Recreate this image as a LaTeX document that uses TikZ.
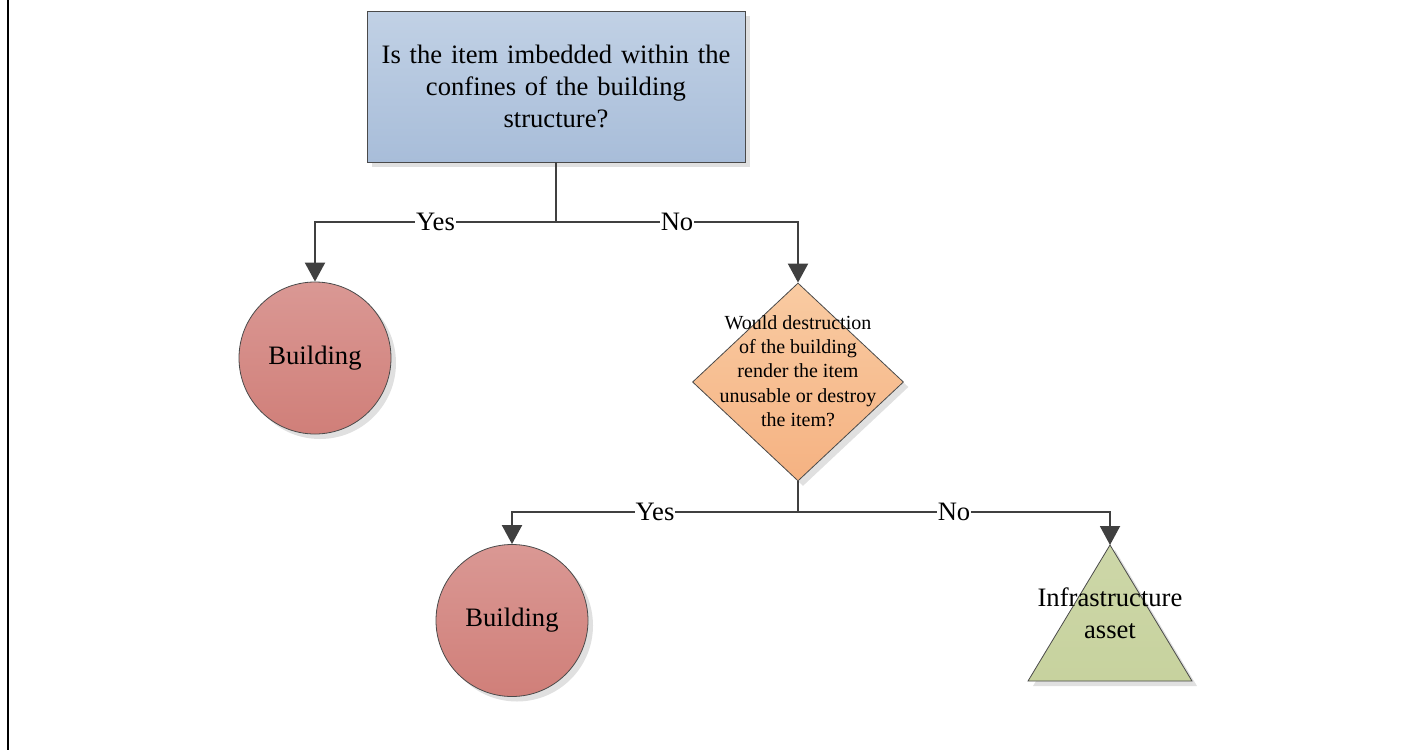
\documentclass[tikz,border=0pt]{standalone}
\usepackage{fontspec}
\setmainfont{Liberation Serif}
\usetikzlibrary{arrows.meta,shapes.geometric,shadows}
\definecolor{linegray}{HTML}{404040}
\definecolor{edgegray}{HTML}{4A4A4A}
\definecolor{qtop}{HTML}{C1D1E5}
\definecolor{qbot}{HTML}{A8BDD9}
\definecolor{btop}{HTML}{DA9894}
\definecolor{bbot}{HTML}{D07F79}
\definecolor{dtop}{HTML}{F9CBA2}
\definecolor{dbot}{HTML}{F5B282}
\definecolor{ttop}{HTML}{CDD7A8}
\definecolor{tbot}{HTML}{C7D29E}
\begin{document}
\begin{tikzpicture}[x=1pt,y=-1pt,
  bigfont/.style={font=\fontsize{26.6}{32}\selectfont},
  smallfont/.style={font=\fontsize{20}{24.3}\selectfont},
  conn/.style={draw=linegray,line width=2pt},
  arr/.style={conn,-{Triangle[width=20pt,length=19pt]}},
  lbl/.style={fill=white,inner sep=1pt,bigfont},
  shadowed/.style={drop shadow={shadow xshift=5pt,shadow yshift=-5pt,fill=black!12,opacity=1}},
  question/.style={rectangle,draw=edgegray,line width=0.8pt,shadowed,
    shading=axis,top color=qtop,bottom color=qbot,
    minimum width=378pt,minimum height=151pt,inner sep=0pt,
    text width=370pt,align=center,bigfont},
  outcome/.style={circle,draw=edgegray,line width=0.8pt,shadowed,
    shading=axis,top color=btop,bottom color=bbot,
    minimum size=152pt,inner sep=0pt,bigfont},
  decision/.style={diamond,draw=edgegray,line width=0.8pt,shadowed,
    shading=axis,top color=dtop,bottom color=dbot,
    minimum width=211pt,minimum height=198pt,inner sep=0pt},
  asset/.style={draw=edgegray,line width=0.8pt,shadowed,
    shading=axis,top color=ttop,bottom color=tbot}
]
\useasboundingbox (0,0) rectangle (1419,750);

% page frame on the left
\draw[black,line width=2pt] (8,0) -- (8,750);

% first question
\node[question] (q1) at (556,86.5)
  {Is the item imbedded within the\\confines of the building\\structure?};

% outcome: building
\node[outcome] (b1) at (315,358) {Building};

% second question
\node[decision] (q2) at (798,382) {};
\node[smallfont,align=center] (q2text) at (798,371)
  {Would destruction\\of the building\\render the item\\unusable or destroy\\the item?};

% outcome: building
\node[outcome] (b2) at (512,620.5) {Building};

% outcome: infrastructure asset
\path[asset] (1110,545) -- (1192,681) -- (1028,681) -- cycle;
\coordinate (tapex) at (1110,545);
\node[bigfont,align=center] (t) at (1110,613) {Infrastructure\\asset};

% connectors
\coordinate (j1) at (556,222);
\coordinate (j2) at (798,512);
\draw[conn] (q1.south) -- (j1);
\draw[arr] (j1) -| node[lbl,pos=0.25] {Yes} (b1.north);
\draw[arr] (j1) -| node[lbl,pos=0.25] {No} (q2.north);
\draw[conn] (q2.south) -- (j2);
\draw[arr] (j2) -| node[lbl,pos=0.25] {Yes} (b2.north);
\draw[arr] (j2) -| node[lbl,pos=0.25] {No} (tapex);
\end{tikzpicture}
\end{document}
